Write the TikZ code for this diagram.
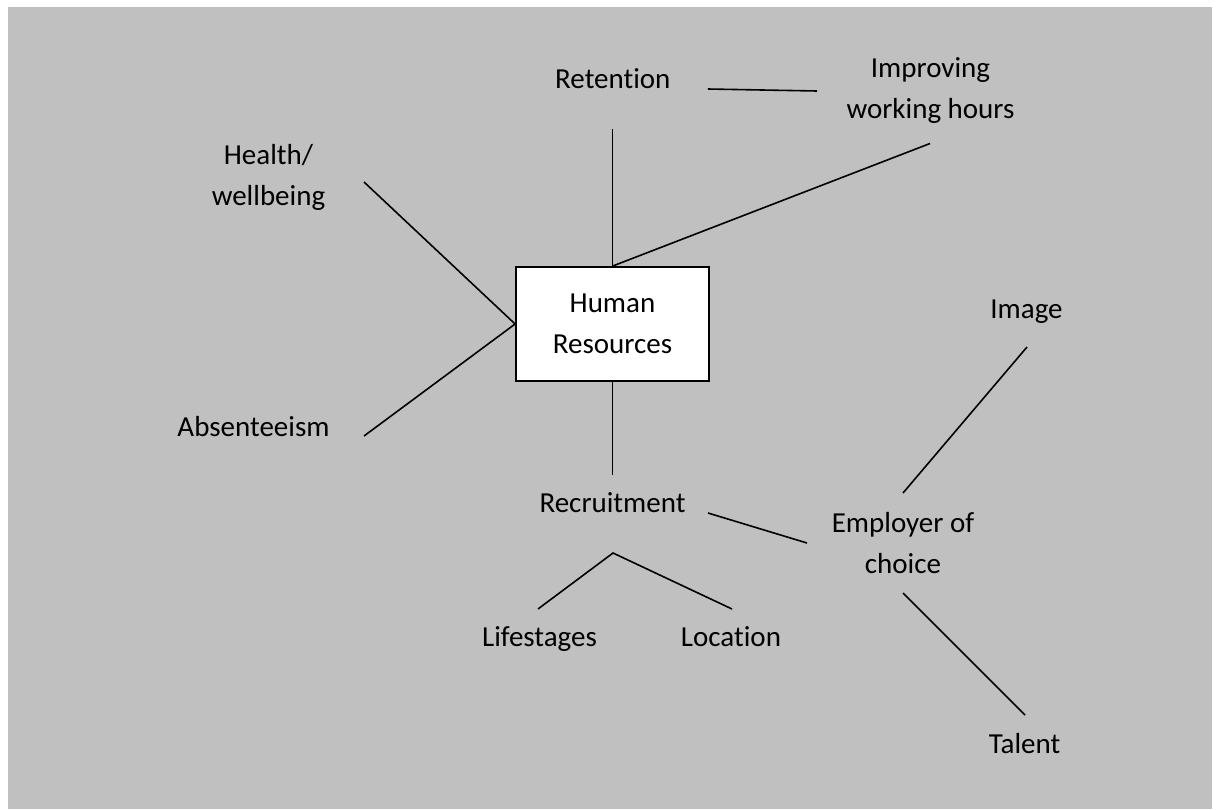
\documentclass[tikz,border=0pt]{standalone}
\usepackage{fontspec}
\setmainfont{Carlito}[Ligatures=NoCommon]
\usetikzlibrary{calc}
\definecolor{bggrey}{HTML}{C0C0C0}
\begin{document}
\begin{tikzpicture}[x=1pt,y=-1pt,
  lbl/.style={font=\fontsize{29}{41}\selectfont, align=center, inner sep=0pt, text=black},
  oneline/.style={lbl, text height=18.7pt, text depth=0pt},
  conn/.style={draw=black, line width=1.6pt},
  hrbox/.style={draw=black, line width=1.8pt, fill=white, minimum width=193pt, minimum height=114pt, font=\fontsize{29}{41}\selectfont, align=center, inner sep=0pt}]
\useasboundingbox (0,0) rectangle (1218,809);
\fill[bggrey] (8,7) rectangle (1212,809);
\node[hrbox] (hr) at (612.5,324) {Human\\Resources};
\node[oneline] (ret) at (612.8,79) {Retention};
\node[lbl] (imp) at (930.5,90.5) {Improving\\working hours};
\node[lbl] (hea) at (268.5,177) {Health/\\wellbeing};
\node[oneline] (abs) at (253.5,427) {Absenteeism};
\node[oneline] (rec) at (612.5,503) {Recruitment};
\node[oneline] (lif) at (539.5,637) {Lifestages};
\node[oneline] (loc) at (731,637) {Location};
\node[oneline] (img) at (1026.5,309.5) {Image};
\node[lbl] (emp) at (903,543) {Employer of\\choice};
\node[oneline] (tal) at (1024.5,744) {Talent};
\coordinate (split) at (613,553);
\draw[conn] ($(ret)+(-0.3,50)$) -- (hr.north);
\draw[conn] ($(ret)+(95,10)$) -- ($(imp)+(-113.5,0.5)$);
\draw[conn] (hr.north) -- ($(imp)+(-0.5,53)$);
\draw[conn] ($(hea)+(95.5,5)$) -- (hr.west);
\draw[conn] ($(abs)+(110.5,9)$) -- (hr.west);
\draw[conn] (hr.south) -- ($(rec)+(0,-28)$);
\draw[conn] ($(rec)+(95.5,10)$) -- ($(emp)+(-96,0)$);
\draw[conn] ($(lif)+(-1.5,-28)$) -- (split) -- ($(loc)+(1,-28)$);
\draw[conn] ($(img)+(0.5,37.5)$) -- ($(emp)+(0,-50)$);
\draw[conn] ($(emp)+(0,50)$) -- ($(tal)+(0.5,-29)$);
\end{tikzpicture}
\end{document}
